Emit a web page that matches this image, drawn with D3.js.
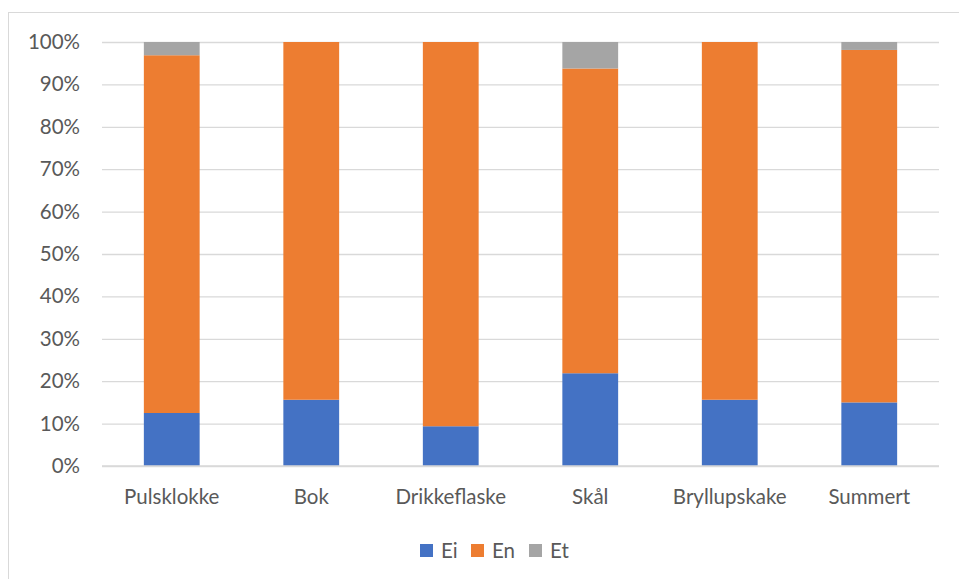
<!DOCTYPE html>
<html>
<head>
<meta charset="utf-8">
<script src="https://cdn.jsdelivr.net/npm/d3@7"></script>
<style>
  html, body { margin: 0; padding: 0; background: #fff; }
  svg { display: block; }
  text { font-family: Lato, "Open Sans", sans-serif; fill: #595959; }
</style>
</head>
<body>
<svg id="chart" width="959" height="579"></svg>
<script>
// Share of answers per item (percent of respondents)
const categories = ["Pulsklokke", "Bok", "Drikkeflaske", "Skål", "Bryllupskake", "Summert"];
const seriesNames = ["Ei", "En", "Et"];
const eiValues = [12.5, 15.625, 9.375, 21.875, 15.625, 15];
const enValues = [84.375, 84.375, 90.625, 71.875, 84.375, 83.125];
const etValues = [3.125, 0, 0, 6.25, 0, 1.875];
const yTicks = [0, 10, 20, 30, 40, 50, 60, 70, 80, 90, 100];
const colors = ["#4472c4", "#ed7d31", "#a5a5a5"];

const rows = categories.map((c, i) => ({ cat: c, Ei: eiValues[i], En: enValues[i], Et: etValues[i] }));
const stacked = d3.stack().keys(seriesNames)(rows);

const svg = d3.select("#chart");
const W = 959, H = 579;
const plot = { left: 102, right: 939, top: 42, bottom: 466 };
const fontFamily = "Lato, 'Open Sans', sans-serif";
const fontSize = 20.5;

// outer chart frame
svg.append("rect")
  .attr("x", 8.5).attr("y", 12.5)
  .attr("width", W + 10).attr("height", H + 10)
  .attr("fill", "#fff").attr("stroke", "#d9d9d9").attr("stroke-width", 1);

const x = d3.scaleBand().domain(categories).range([plot.left, plot.right]).paddingInner(0.6).paddingOuter(0.3);
const y = d3.scaleLinear().domain([0, 100]).range([plot.bottom, plot.top]);

// horizontal gridlines
const yAxis = d3.axisLeft(y).tickValues(yTicks).tickFormat(d => d + "%")
  .tickSize(-(plot.right - plot.left)).tickPadding(22);
const gy = svg.append("g").attr("transform", `translate(${plot.left},0)`).call(yAxis);
gy.select(".domain").remove();
gy.selectAll(".tick line").attr("stroke", "#d9d9d9").attr("stroke-width", 1.3);
gy.selectAll(".tick text").attr("font-size", fontSize).attr("fill", "#595959")
  .style("font-family", fontFamily);

// stacked bars
svg.append("g").selectAll("g")
  .data(stacked).join("g")
  .attr("fill", (d, i) => colors[i])
  .selectAll("rect")
  .data(d => d).join("rect")
  .attr("x", d => x(d.data.cat))
  .attr("width", x.bandwidth())
  .attr("y", d => y(d[1]))
  .attr("height", d => y(d[0]) - y(d[1]));

// category axis
const xAxis = d3.axisBottom(x).tickSize(0).tickPadding(23);
const gx = svg.append("g").attr("transform", `translate(0,${plot.bottom})`).call(xAxis);
gx.select(".domain").attr("stroke", "#d9d9d9").attr("stroke-width", 1.3)
  .attr("d", `M${plot.left},0H${plot.right}`);
gx.selectAll(".tick text").attr("font-size", fontSize).attr("fill", "#595959")
  .style("font-family", fontFamily);

// legend
const legendX = [420, 471, 529];
const lg = svg.append("g").selectAll("g").data(seriesNames).join("g")
  .attr("transform", (d, i) => `translate(${legendX[i]},544)`);
lg.append("rect").attr("width", 13).attr("height", 13).attr("fill", (d, i) => colors[i]);
lg.append("text").attr("x", 21).attr("y", 14).attr("font-size", fontSize)
  .style("font-family", fontFamily).text(d => d);
</script>
</body>
</html>
